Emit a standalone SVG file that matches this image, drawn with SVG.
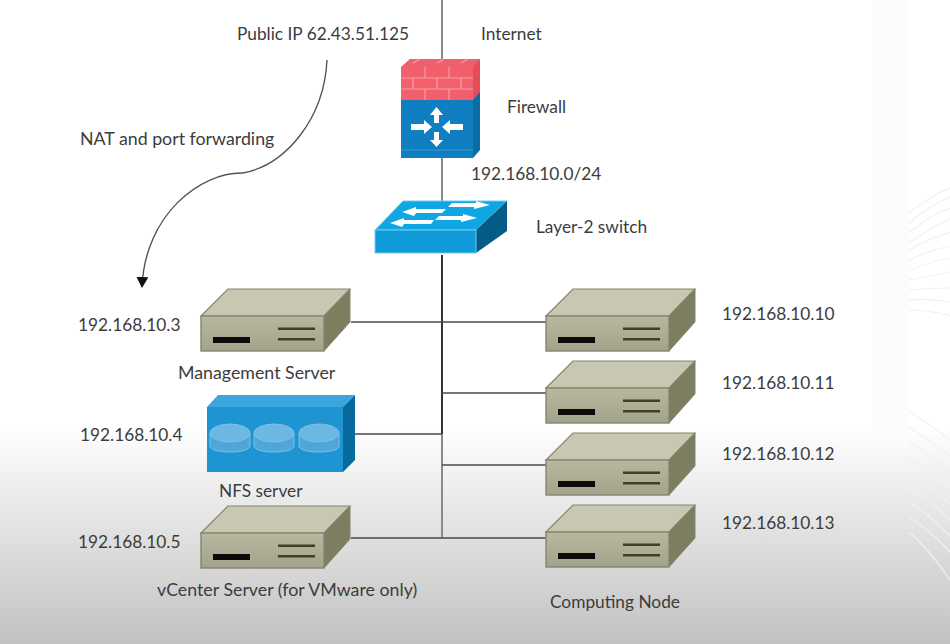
<svg xmlns="http://www.w3.org/2000/svg" width="950" height="644" viewBox="0 0 950 644">
<style>
text{font-family:"Lato","Open Sans","Liberation Sans",sans-serif;font-size:17.3px;fill:#3c3c3c}
.l{font-size:17.8px}
.w{fill:none;stroke:#4a4a4a;stroke-width:1.5}
.g{fill:none;stroke:#8a8a8a;stroke-width:2}
.d{fill:none;stroke:#333;stroke-width:2}
.f{fill:none;stroke:#f1f1f1;stroke-width:1.2}
.b{fill:none;stroke:#f2a0a8;stroke-width:1.2}
</style>
<defs>
<linearGradient id="bg" x1="0" y1="0" x2="0" y2="1"><stop offset="0" stop-color="#fff"/><stop offset=".66" stop-color="#fff"/><stop offset="1" stop-color="#c2c2c2"/></linearGradient>
<linearGradient id="fr" x1="0" y1="0" x2="0" y2="1"><stop offset="0" stop-color="#b8b8a0"/><stop offset="1" stop-color="#a3a38c"/></linearGradient>
<marker id="ah" markerWidth="12" markerHeight="12" refX="10" refY="6" orient="auto" markerUnits="userSpaceOnUse"><path d="M0 0L11 6L0 12Z" fill="#111"/></marker>
<g id="srv">
<path d="M0 27L27 0H149L123 27Z" fill="#c8c8b2" stroke="#85856d" stroke-width="1.2"/>
<path d="M123 27L149 0V33L123 62Z" fill="#7d7d60" stroke="#85856d" stroke-width="1"/>
<rect x="0" y="27" width="123" height="35" fill="url(#fr)" stroke="#85856d" stroke-width="1.4"/>
<rect x="12" y="48" width="37" height="6" fill="#0a0a0a"/>
<rect x="77" y="38.500" width="37" height="2.500" fill="#3f3f25"/>
<rect x="77" y="49" width="37" height="2.500" fill="#3f3f25"/>
</g>
</defs>
<rect id="background" width="950" height="644" fill="url(#bg)"/>
<g id="decor">
<rect x="872" y="0" width="37" height="430" fill="#fcfcfc"/>
<path class="f" d="M909 213Q930 196 950 188M909 223Q930 205 950 197M909 233Q930 215 950 208M909 243Q930 228 950 219M909 250Q930 238 950 232M909 260Q930 250 950 246M909 270Q930 262 950 258M909 280Q930 276 950 272M909 290Q930 288 950 288M909 300Q930 298 950 302M909 310Q930 310 950 316"/>
<path class="f" d="M909 412Q930 424 950 440M909 427Q930 440 950 456M909 442Q930 455 950 472M909 457Q930 470 950 488M909 472Q930 485 950 504M909 487Q930 500 950 520M909 502Q930 515 950 536M909 517Q930 530 950 552M909 532Q930 550 950 580"/>
</g>
<g id="connectors">
<path class="g" d="M442 0V60M442 158V202"/>
<path class="d" d="M442 255V434"/>
<path class="g" d="M442 434V538" stroke-width="1.6"/>
<path class="w" d="M351 322H546M442 393H546M343 434H442M442 465H546M351 538H546"/>
<path d="M327 60C324 120 285 165 243 173C200 172 145 215 142 287" fill="none" stroke="#555" stroke-width="1.4" marker-end="url(#ah)"/>
</g>
<g id="firewall">
<path d="M401 67L410 59H480L473 67Z" fill="#f0606c"/>
<path d="M473 67L480 59V150L473 158Z" fill="#0b6ca6"/>
<path d="M473 67L480 59V92L473 100Z" fill="#e84a58"/>
<rect x="401" y="67" width="72" height="33" fill="#f2606c"/>
<path class="b" d="M401 78H473M401 89H473M425 67V78M449 67V78M413 78V89M437 78V89M461 78V89M425 89V100M449 89V100M413 63L420 59M437 63L444 59M461 63L468 59"/>
<rect x="401" y="100" width="72" height="58" fill="#0f7fc1"/>
<path d="M401 150H473" stroke="#3a9ad0" stroke-width="1"/>
<path d="M436.500 107L443 115H439V123H434V115H430Z M411 124H424V120L432 127 424 134V130H411Z M463 124H450V120L442 127 450 134V130H463Z M434 132H439V140H443L436.500 147 430 140H434Z" fill="#fff"/>
</g>
<g id="switch">
<path d="M375 230L403 201H507L476 230Z" fill="#10a5e3" stroke="#6dcdf0"/>
<path d="M476 230L507 201V231L476 253Z" fill="#045c86"/>
<rect x="375" y="230" width="101" height="23" fill="#0f9ad8" stroke="#6dcdf0"/>
<path d="M402 212L416 207V209H446L442 213H416L414 216Z M490 205L476 201V203H452L448 207H474V209ZM390 223L404 218V220H434L431 224H404L402 227Z M477 218L463 214V216H439L435 220H461V222Z" fill="#fff"/>
</g>
<g id="mgmt-server"><use href="#srv" x="201" y="289"/></g>
<g id="nfs-server">
<path d="M207 407L218 395H355L343 407Z" fill="#3aa6dd"/>
<path d="M343 407L355 395V460L343 472Z" fill="#076a9c"/>
<rect x="207" y="407" width="136" height="65" fill="#1f94d2"/>
<g fill="#4ea6da" stroke="#7cc2e7" stroke-width="1">
<path d="M210 433V446C210 454 250 454 250 446V433Z"/><ellipse cx="230" cy="433" rx="20" ry="9" fill="#6cb8e2"/>
<path d="M254 433V446C254 454 294 454 294 446V433Z"/><ellipse cx="274" cy="433" rx="20" ry="9" fill="#6cb8e2"/>
<path d="M299 433V446C299 454 339 454 339 446V433Z"/><ellipse cx="319" cy="433" rx="20" ry="9" fill="#6cb8e2"/>
</g>
</g>
<g id="vcenter-server"><use href="#srv" x="201" y="506"/></g>
<g id="node-10"><use href="#srv" x="546" y="289"/></g>
<g id="node-11"><use href="#srv" x="546" y="361"/></g>
<g id="node-12"><use href="#srv" x="546" y="433"/></g>
<g id="node-13"><use href="#srv" x="546" y="505"/></g>
<g id="labels">
<text x="237" y="40">Public IP 62.43.51.125</text>
<text x="481" y="40">Internet</text>
<text x="507" y="113">Firewall</text>
<text x="471" y="180">192.168.10.0/24</text>
<text x="536" y="233">Layer-2 switch</text>
<text class="l" x="80" y="145">NAT and port forwarding</text>
<text x="78" y="331">192.168.10.3</text>
<text class="l" x="178" y="379">Management Server</text>
<text x="80" y="441">192.168.10.4</text>
<text x="219" y="497">NFS server</text>
<text x="78" y="548">192.168.10.5</text>
<text class="l" x="157" y="596">vCenter Server (for VMware only)</text>
<text x="550" y="608">Computing Node</text>
<text x="722" y="320">192.168.10.10</text>
<text x="722" y="389">192.168.10.11</text>
<text x="722" y="460">192.168.10.12</text>
<text x="722" y="529">192.168.10.13</text>
</g>
</svg>
